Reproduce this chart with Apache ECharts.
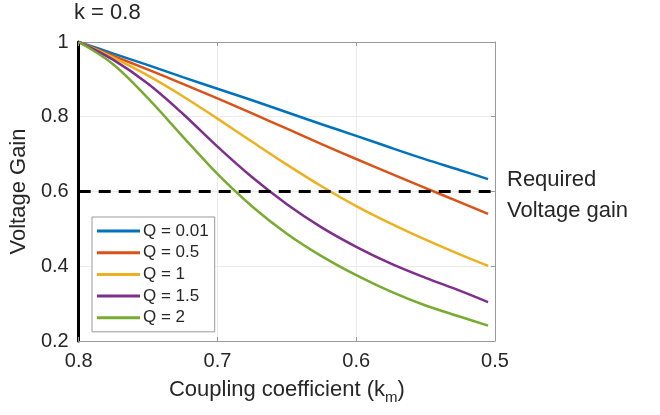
<!DOCTYPE html>
<html>
<head>
<meta charset="utf-8">
<script src="https://cdn.jsdelivr.net/npm/echarts@6/dist/echarts.min.js"></script>
<style>
  html, body { margin: 0; padding: 0; background: #fff; }
  #chart { width: 660px; height: 415px; }
</style>
</head>
<body>
<div id="chart"></div>
<script>
// Coupling coefficient km (design value k = 0.8)
const km = [0.8, 0.775, 0.75, 0.725, 0.7, 0.675, 0.65, 0.625, 0.6, 0.575, 0.55, 0.525, 0.505];

// Voltage gain for each load quality factor
const gainQ001 = [1, 0.969, 0.938, 0.906, 0.875, 0.844, 0.812, 0.780, 0.749, 0.717, 0.686, 0.657, 0.633];
const gainQ05  = [1, 0.963, 0.926, 0.888, 0.849, 0.809, 0.768, 0.727, 0.687, 0.648, 0.609, 0.571, 0.540];
const gainQ1   = [1, 0.958, 0.910, 0.855, 0.795, 0.733, 0.672, 0.614, 0.561, 0.514, 0.471, 0.431, 0.401];
const gainQ15  = [1, 0.952, 0.888, 0.808, 0.720, 0.638, 0.566, 0.504, 0.452, 0.407, 0.369, 0.334, 0.304];
const gainQ2   = [1, 0.940, 0.849, 0.747, 0.647, 0.560, 0.487, 0.427, 0.376, 0.332, 0.295, 0.265, 0.241];

const seriesNames = ['Q = 0.01', 'Q = 0.5', 'Q = 1', 'Q = 1.5', 'Q = 2'];
const seriesGains = [gainQ001, gainQ05, gainQ1, gainQ15, gainQ2];
const colors = ['#0072BD', '#D95319', '#EDB120', '#7E2F8E', '#77AC30'];

// Required gain threshold across the km range
const requiredGain = 0.6;
const requiredRange = [0.8, 0.5];

const FONT = '"Liberation Sans", Arial, Helvetica, sans-serif';
const TXT = '#262626';
const BOX = '#9a9a9a';

const chart = echarts.init(document.getElementById('chart'), null, { renderer: 'canvas' });

const curves = seriesNames.map((name, i) => ({
  name,
  type: 'line',
  xAxisIndex: 0,
  yAxisIndex: 0,
  symbol: 'none',
  smooth: 0.35,
  lineStyle: { width: 2.5, color: colors[i] },
  itemStyle: { color: colors[i] },
  data: km.map((x, j) => [x, seriesGains[i][j]]),
  z: 3
}));

const thresholdLine = {
  name: 'required',
  type: 'line',
  symbol: 'none',
  silent: true,
  lineStyle: { width: 3, color: '#000', type: [12, 8] },
  data: requiredRange.map(x => [x, requiredGain]),
  z: 4
};

chart.setOption({
  animation: false,
  textStyle: { fontFamily: FONT },
  grid: { left: 78, right: 165, top: 42, bottom: 74, containLabel: false },
  legend: {
    data: seriesNames,
    orient: 'vertical',
    left: 92,
    top: 217,
    icon: 'rect',
    itemWidth: 43,
    itemHeight: 3,
    itemGap: 1.7,
    padding: [4, 6, 4, 5],
    borderColor: BOX,
    borderWidth: 1,
    backgroundColor: '#fff',
    textStyle: { fontFamily: FONT, fontSize: 17, color: TXT, lineHeight: 20, padding: [0, 0, 0, -2] },
    z: 10
  },
  xAxis: [{
    type: 'value',
    inverse: true,
    min: 0.5,
    max: 0.8,
    interval: 0.1,
    position: 'bottom',
    name: '{a|Coupling coefficient (k}{s|m}{a|)}',
    nameLocation: 'middle',
    nameGap: 35,
    nameTextStyle: {
      rich: {
        a: { fontFamily: FONT, fontSize: 22, color: TXT, lineHeight: 26 },
        s: { fontFamily: FONT, fontSize: 15, color: TXT, lineHeight: 26, padding: [14, 0, 0, 0] }
      }
    },
    axisLine: { show: true, onZero: false, lineStyle: { color: BOX, width: 1 } },
    axisTick: { show: true, inside: true, length: 4, lineStyle: { color: BOX } },
    axisLabel: { fontFamily: FONT, fontSize: 20, color: TXT, margin: 10 },
    splitLine: { show: true, lineStyle: { color: '#ebebeb', width: 1 } }
  }, {
    type: 'value',
    inverse: true,
    min: 0.5,
    max: 0.8,
    interval: 0.1,
    position: 'top',
    axisLine: { show: true, onZero: false, lineStyle: { color: BOX, width: 1 } },
    axisTick: { show: true, inside: true, length: 4, lineStyle: { color: BOX } },
    axisLabel: { show: false },
    splitLine: { show: false }
  }],
  yAxis: [{
    type: 'value',
    min: 0.2,
    max: 1,
    interval: 0.2,
    position: 'left',
    name: 'Voltage Gain',
    nameLocation: 'middle',
    nameGap: 43,
    nameTextStyle: { fontFamily: FONT, fontSize: 22, color: TXT },
    axisLine: { show: true, onZero: false, lineStyle: { color: '#000', width: 3 } },
    axisTick: { show: false },
    axisLabel: { fontFamily: FONT, fontSize: 20, color: TXT, margin: 10 },
    splitLine: { show: true, lineStyle: { color: '#ebebeb', width: 1 } }
  }, {
    type: 'value',
    min: 0.2,
    max: 1,
    interval: 0.2,
    position: 'right',
    axisLine: { show: true, onZero: false, lineStyle: { color: BOX, width: 1 } },
    axisTick: { show: true, inside: true, length: 4, lineStyle: { color: BOX } },
    axisLabel: { show: false },
    splitLine: { show: false }
  }],
  graphic: [
    {
      type: 'text',
      left: 74,
      top: 2,
      style: { text: 'k = 0.8', fontFamily: FONT, fontSize: 22, fill: TXT }
    },
    {
      type: 'text',
      left: 507,
      top: 164,
      style: {
        text: 'Required\nVoltage gain',
        fontFamily: FONT,
        fontSize: 22,
        lineHeight: 31,
        fill: TXT
      }
    }
  ],
  series: [...curves, thresholdLine]
});
</script>
</body>
</html>
